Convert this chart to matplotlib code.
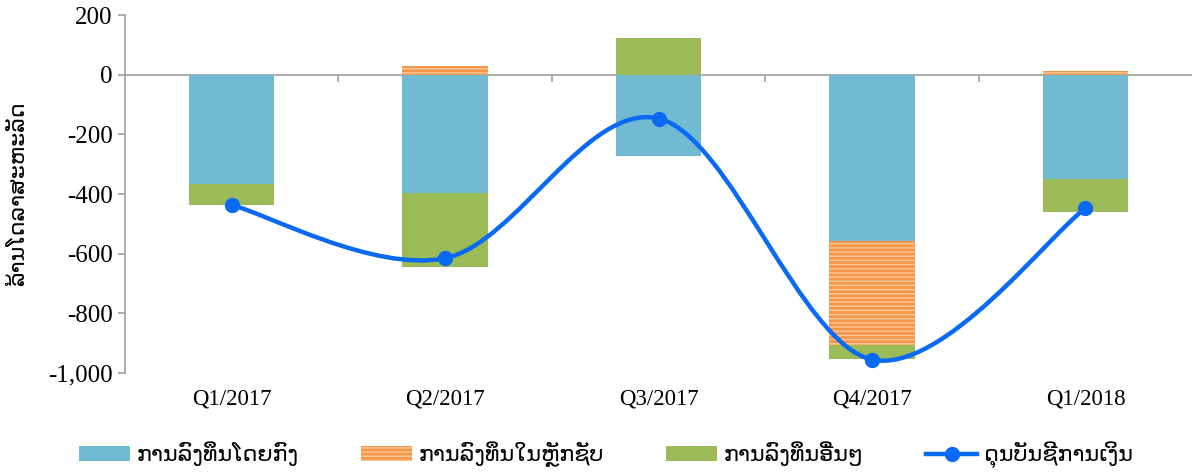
import numpy as np
import matplotlib
matplotlib.use("Agg")
import matplotlib.pyplot as plt
from matplotlib.path import Path
from matplotlib.patches import PathPatch, Patch
from matplotlib.lines import Line2D

# =========================
# DATA
# =========================

quarters = ["Q1/2017", "Q2/2017", "Q3/2017", "Q4/2017", "Q1/2018"]

direct_inv = [-368, -395, -271, -558, -351]
portfolio_inv = [0, 30, 0, -348, 13]
other_inv = [-70, -250, 124, -47, -110]
fin_balance = [-437, -615, -147, -955, -448]

y_ticks = [200, 0, -200, -400, -600, -800, -1000]
y_tick_labels = ["200", "0", "-200", "-400", "-600", "-800", "-1,000"]

label_direct = "ການລົງທຶນໂດຍກົງ"
label_portfolio = "ການລົງທຶນໃນຫຼັກຊັບ"
label_other = "ການລົງທຶນອື່ນໆ"
label_balance = "ດຸນບັນຊີການເງິນ"
y_label = "ລ້ານໂດລາສະຫະລັດ"

# =========================
# STYLE
# =========================

blue_bar = "#70BAD2"
orange_bar = "#F79646"
green_bar = "#9BBB59"
line_col = "#0A6AF5"
axis_col = "#A0A0A0"

serif = ["Liberation Serif", "DejaVu Sans"]
lao = ["DejaVu Sans"]

plt.rcParams["hatch.linewidth"] = 1.0

fig = plt.figure(figsize=(11.97, 4.72), dpi=100)
ax = fig.add_axes([0.1044, 0.2097, 0.8916, 0.7585])

x = np.arange(len(quarters))
w = 0.4

# stack positives and negatives separately
pos_base = np.zeros(len(x))
neg_base = np.zeros(len(x))


def stack(vals):
    vals = np.array(vals, dtype=float)
    bottoms = np.where(vals >= 0, pos_base, neg_base)
    pos_base[:] = pos_base + np.where(vals >= 0, vals, 0)
    neg_base[:] = neg_base + np.where(vals < 0, vals, 0)
    return vals, bottoms


v, b = stack(direct_inv)
ax.bar(x, v, w, bottom=b, color=blue_bar, zorder=2)
v, b = stack(portfolio_inv)
ax.bar(x, v, w, bottom=b, color=orange_bar, edgecolor="#FBC89E",
       linewidth=0, hatch="----", zorder=2)
v, b = stack(other_inv)
ax.bar(x, v, w, bottom=b, color=green_bar, zorder=2)

# smoothed line (Catmull-Rom style bezier, like Excel)
pts = np.column_stack([x, fin_balance]).astype(float)
verts = [pts[0]]
codes = [Path.MOVETO]
n = len(pts)
for i in range(n - 1):
    p0 = pts[max(i - 1, 0)]
    p1 = pts[i]
    p2 = pts[i + 1]
    p3 = pts[min(i + 2, n - 1)]
    c1 = p1 + (p2 - p0) / 6.0
    c2 = p2 - (p3 - p1) / 6.0
    verts += [c1, c2, p2]
    codes += [Path.CURVE4] * 3
ax.add_patch(PathPatch(Path(verts, codes), fill=False, edgecolor=line_col,
                       linewidth=3.2, zorder=3, capstyle="round"))
ax.plot(x, fin_balance, linestyle="none", marker="o", markersize=10,
        color=line_col, zorder=4)

# axes
ax.set_xlim(-0.5, len(x) - 0.5)
ax.set_ylim(-1000, 200)
ax.set_yticks(y_ticks)
ax.set_yticklabels(y_tick_labels, family=serif, fontsize=18)
ax.set_xticks(x)
ax.set_xticklabels(quarters, family=serif, fontsize=16.5)
ax.tick_params(axis="x", length=0, pad=11)
ax.tick_params(axis="y", direction="out", length=5, color=axis_col, width=1.2,
               pad=4)

for s in ["top", "right", "bottom"]:
    ax.spines[s].set_visible(False)
ax.spines["left"].set_color(axis_col)
ax.spines["left"].set_linewidth(1.2)

ax.axhline(0, color=axis_col, linewidth=1.2, zorder=1)
zero_pos = (0 - (-1000)) / 1200
sec = ax.secondary_xaxis(zero_pos)
sec.set_xticks(np.arange(0.5, len(x) - 0.5, 1.0))
sec.tick_params(axis="x", direction="out", length=5, color=axis_col,
                width=1.2, labelbottom=False, labeltop=False,
                bottom=True, top=False)
sec.xaxis.set_ticks_position("bottom")
sec.set_xticklabels([])
for s in sec.spines.values():
    s.set_visible(False)

ax.set_ylabel(y_label, family=lao, fontsize=16, labelpad=14)

# legend
handles = [
    Patch(facecolor=blue_bar, label=label_direct),
    Patch(facecolor=orange_bar, edgecolor="#FBC89E", hatch="----",
          linewidth=0, label=label_portfolio),
    Patch(facecolor=green_bar, label=label_other),
    Line2D([0], [0], color=line_col, linewidth=3.2, marker="o",
           markersize=10, label=label_balance),
]
fig.legend(handles=handles, loc="center", bbox_to_anchor=(0.506, 0.036),
           ncol=4, frameon=False, prop={"family": lao, "size": 16},
           handlelength=2.3, handleheight=0.68, handletextpad=0.3,
           columnspacing=2.8, borderpad=0, borderaxespad=0)

fig.savefig("out.png", dpi=100)
